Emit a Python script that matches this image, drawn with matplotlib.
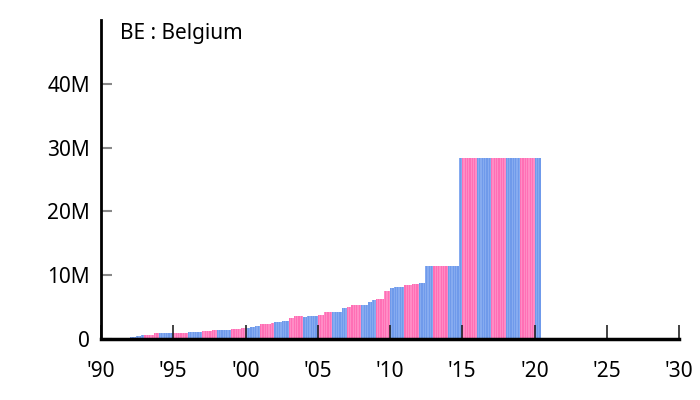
import numpy as np
import matplotlib.pyplot as plt
from matplotlib.ticker import FuncFormatter

plt.rcParams['font.family'] = ['Noto Sans', 'DejaVu Sans']

# monthly values (millions), one list per year, starting Jan 1991
anos = list(range(1991, 2021))
valores = [
    [0, 0.12, 0.12, 0.12, 0.12, 0.12, 0.15, 0.15, 0.15, 0.15, 0.15, 0.15],   # 1991
    [0.37, 0.37, 0.37, 0.37, 0.37, 0.52, 0.52, 0.52, 0.52, 0.62, 0.62, 0.62],
    [0.65, 0.65, 0.65, 0.65, 0.65, 0.65, 0.65, 0.65, 0.88, 0.88, 0.88, 0.88],
    [0.9, 0.9, 0.9, 0.9, 0.9, 0.9, 0.9, 0.9, 0.9, 0.9, 0.9, 0.9],
    [0.95, 0.95, 0.95, 0.95, 0.95, 0.95, 0.95, 0.95, 0.95, 0.95, 0.95, 0.95],  # 1995
    [1.04, 1.04, 1.04, 1.04, 1.04, 1.15, 1.15, 1.15, 1.15, 1.15, 1.15, 1.15],
    [1.25, 1.25, 1.25, 1.25, 1.25, 1.25, 1.25, 1.25, 1.35, 1.35, 1.35, 1.35],
    [1.4, 1.4, 1.4, 1.4, 1.4, 1.4, 1.4, 1.4, 1.4, 1.4, 1.4, 1.4],
    [1.56, 1.56, 1.56, 1.56, 1.56, 1.56, 1.56, 1.56, 1.68, 1.68, 1.68, 1.68],
    [1.8, 1.8, 1.8, 1.8, 1.95, 1.95, 1.95, 1.95, 2.1, 2.1, 2.1, 2.1],          # 2000
    [2.3, 2.3, 2.3, 2.3, 2.3, 2.3, 2.3, 2.3, 2.3, 2.45, 2.45, 2.45],
    [2.6, 2.6, 2.6, 2.6, 2.6, 2.6, 2.75, 2.75, 2.75, 2.75, 2.75, 2.75],
    [3.3, 3.3, 3.3, 3.3, 3.54, 3.54, 3.54, 3.54, 3.54, 3.54, 3.54, 3.54],
    [3.5, 3.42, 3.42, 3.54, 3.54, 3.54, 3.54, 3.54, 3.54, 3.54, 3.54, 3.54],
    [3.75, 3.75, 3.75, 3.75, 3.75, 4.17, 4.17, 4.17, 4.17, 4.17, 4.17, 4.17],  # 2005
    [4.27, 4.27, 4.27, 4.27, 4.27, 4.27, 4.27, 4.27, 4.9, 4.9, 4.9, 4.9],
    [5.05, 5.05, 5.05, 5.05, 5.3, 5.3, 5.3, 5.3, 5.3, 5.3, 5.3, 5.3],
    [5.3, 5.3, 5.3, 5.3, 5.3, 5.3, 5.83, 5.83, 5.83, 6.15, 6.15, 6.15],
    [6.3, 6.3, 6.3, 6.3, 6.3, 6.3, 6.3, 7.5, 7.6, 7.6, 7.6, 7.6],
    [7.97, 7.97, 7.97, 8.2, 8.2, 8.2, 8.2, 8.2, 8.2, 8.2, 8.2, 8.2],           # 2010
    [8.4, 8.4, 8.4, 8.4, 8.4, 8.4, 8.6, 8.6, 8.6, 8.6, 8.6, 8.6],
    [8.75, 8.75, 8.75, 8.75, 8.75, 11.46, 11.46, 11.46, 11.46, 11.46, 11.46, 11.46],
    [11.46, 11.46, 11.46, 11.46, 11.46, 11.46, 11.46, 11.46, 11.46, 11.46, 11.46, 11.46],
    [11.46, 11.46, 11.46, 11.46, 11.46, 11.46, 11.46, 11.46, 11.46, 28.3, 28.3, 28.3],
    [28.3, 28.35, 28.35, 28.35, 28.35, 28.35, 28.35, 28.35, 28.35, 28.35, 28.35, 28.35],  # 2015
    [28.35, 28.35, 28.35, 28.35, 28.35, 28.35, 28.35, 28.35, 28.35, 28.4, 28.4, 28.4],
    [28.4, 28.4, 28.4, 28.4, 28.4, 28.4, 28.4, 28.4, 28.4, 28.4, 28.4, 28.4],
    [28.4, 28.4, 28.4, 28.4, 28.4, 28.4, 28.4, 28.4, 28.4, 28.4, 28.4, 28.4],
    [28.35, 28.35, 28.35, 28.35, 28.35, 28.35, 28.35, 28.35, 28.35, 28.35, 28.35, 28.35],
    [28.3, 28.3, 28.3, 28.3, 28.3],                                             # 2020 (Jan-May)
]

anosTicks = list(range(1990, 2031, 5))
rotulosTicks = ["'90", "'95", "'00", "'05", "'10", "'15", "'20", "'25", "'30"]

# cores: anos pares azul, impares rosa, meses alternando tom
coresAzul = ['#6f9aeb', '#86abf0']
coresRosa = ['#ff6fb5', '#ff8cc5']

fig = plt.figure(figsize=(7, 4), dpi=100)
ax = fig.add_axes([0.1443, 0.1525, 0.8257, 0.7975])

for ano, meses in zip(anos, valores):
    paleta = coresAzul if ano % 2 == 0 else coresRosa
    x = ano + np.arange(len(meses)) / 12
    cores = [paleta[i % 2] for i in range(len(meses))]
    ax.bar(x, np.array(meses) * 1e6, width=1 / 12, align='edge', color=cores, linewidth=0)

ax.set_xlim(1990, 2030)
ax.set_ylim(0, 50e6)
ax.set_xticks(anosTicks)
ax.set_xticklabels(rotulosTicks)
ax.set_yticks([0, 10e6, 20e6, 30e6, 40e6])
ax.yaxis.set_major_formatter(FuncFormatter(lambda v, p: '0' if v == 0 else f'{int(v / 1e6)}M'))

for lado in ['top', 'right']:
    ax.spines[lado].set_visible(False)
ax.spines['left'].set_linewidth(2)
ax.spines['bottom'].set_linewidth(2.5)

ax.tick_params(axis='y', direction='in', length=8, width=1.5, color='#888888', labelsize=15, pad=8)
ax.tick_params(axis='x', direction='in', length=10, width=1.2, color='#222222', labelsize=15, pad=16)

ax.text(0.033, 0.959, 'BE : Belgium', transform=ax.transAxes, fontsize=15, va='center', ha='left')

fig.savefig('out.png', dpi=100)
